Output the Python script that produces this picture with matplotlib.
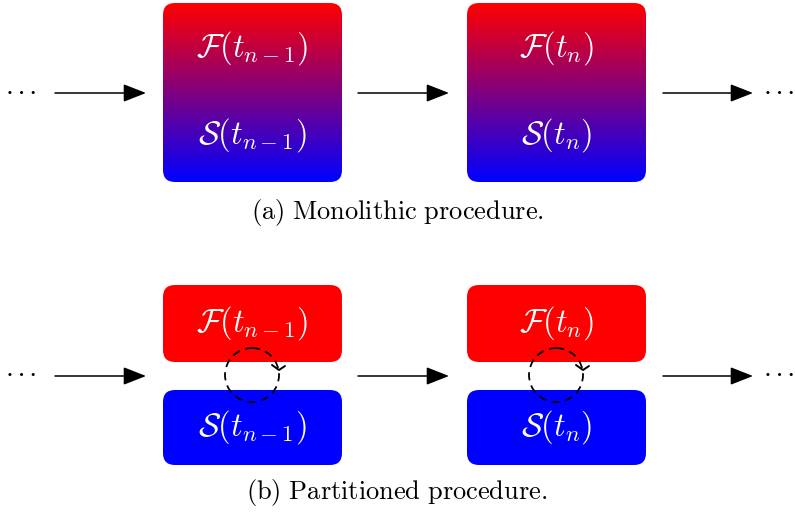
import numpy as np
import matplotlib
matplotlib.use("Agg")
import matplotlib.pyplot as plt
from matplotlib.patches import FancyBboxPatch, Circle
from matplotlib.colors import LinearSegmentedColormap

plt.rcParams['mathtext.fontset'] = 'cm'

# content
fluid_labels = [r'$\mathcal{F}(t_{n-1})$', r'$\mathcal{F}(t_{n})$']
solid_labels = [r'$\mathcal{S}(t_{n-1})$', r'$\mathcal{S}(t_{n})$']
captions = [r'$\mathrm{(a)\ Monolithic\ procedure.}$', r'$\mathrm{(b)\ Partitioned\ procedure.}$']
ellipsis = '\u00b7 \u00b7 \u00b7'
box_x = [163, 467]
box_w = 179

fig = plt.figure(figsize=(7.95, 5.16), dpi=100)
ax = fig.add_axes([0, 0, 1, 1])
ax.set_xlim(0, 795)
ax.set_ylim(516, 0)
ax.axis('off')

cmap = LinearSegmentedColormap.from_list('rb', [(1, 0, 0), (0, 0, 1)])
grad = np.linspace(0, 1, 256).reshape(-1, 1)

def arrow(x0, x1, y):
    ax.annotate('', xy=(x1, y), xytext=(x0, y),
                arrowprops=dict(arrowstyle='-|>,head_length=1.4,head_width=0.55',
                                lw=1.1, color='black', mutation_scale=10,
                                shrinkA=0, shrinkB=0))

def dots(y):
    ax.text(22, y, ellipsis, fontsize=12, family='DejaVu Serif',
            ha='center', va='center', fontweight='bold')
    ax.text(780, y, ellipsis, fontsize=12, family='DejaVu Serif',
            ha='center', va='center', fontweight='bold')

fs = 23.5
cfs = 19
# (a) monolithic
ytop, ybot = 3, 182
for i, x in enumerate(box_x):
    p = FancyBboxPatch((x + 12, ytop + 12), box_w - 24, ybot - ytop - 24,
                       boxstyle='round,pad=12', fc='none', ec='none')
    ax.add_patch(p)
    im = ax.imshow(grad, cmap=cmap, extent=(x, x + box_w, ybot, ytop),
                   aspect='auto', zorder=1)
    im.set_clip_path(p)
    ax.text(x + box_w / 2, 48, fluid_labels[i], color='white', fontsize=fs,
            ha='center', va='center', zorder=3)
    ax.text(x + box_w / 2, 135, solid_labels[i], color='white', fontsize=fs,
            ha='center', va='center', zorder=3)
ya = 93
arrow(55, 146, ya)
arrow(358, 449, ya)
arrow(663, 753, ya)
dots(ya)
ax.text(397, 212, captions[0], fontsize=cfs, ha='center', va='center')

# (b) partitioned
for i, x in enumerate(box_x):
    for (y0, y1, col, lab) in [(285, 362, 'red', fluid_labels[i]),
                               (390, 465, 'blue', solid_labels[i])]:
        p = FancyBboxPatch((x + 12, y0 + 12), box_w - 24, y1 - y0 - 24,
                           boxstyle='round,pad=12', fc=col, ec='none', zorder=1)
        ax.add_patch(p)
        ax.text(x + box_w / 2, (y0 + y1) / 2, lab, color='white', fontsize=fs,
                ha='center', va='center', zorder=3)
    cx, cy, r = x + 89, 375, 27
    ax.add_patch(Circle((cx, cy), r, fill=False, ec='black', lw=1.3,
                        ls=(0, (4.5, 3)), zorder=4))
    ax.plot([cx + r - 7, cx + r, cx + r + 6], [cy - 10, cy - 5, cy - 9],
            color='black', lw=1.4, zorder=5, solid_capstyle='round')
yb = 376
arrow(55, 146, yb)
arrow(358, 449, yb)
arrow(663, 753, yb)
dots(yb)
ax.text(397, 493, captions[1], fontsize=cfs, ha='center', va='center')

fig.savefig('out.png', dpi=100)
